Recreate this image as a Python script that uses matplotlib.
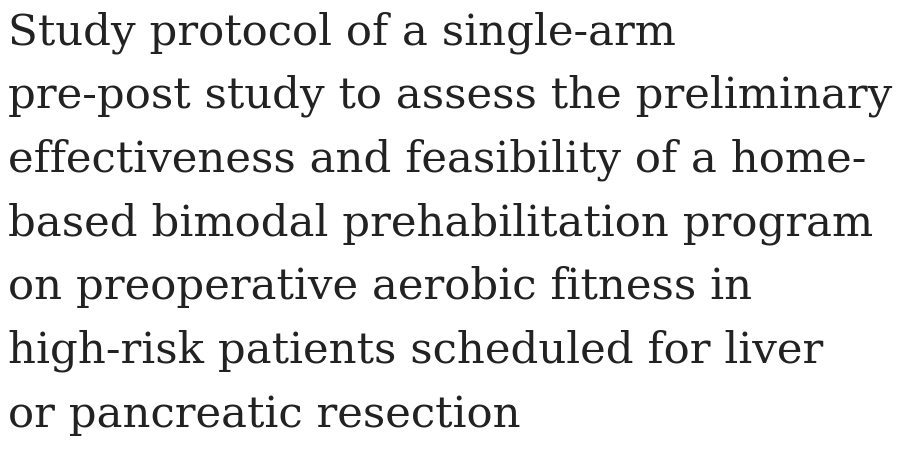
import matplotlib.pyplot as plt

lines = [
    "Study protocol of a single-arm",
    "pre-post study to assess the preliminary",
    "effectiveness and feasibility of a home-",
    "based bimodal prehabilitation program",
    "on preoperative aerobic fitness in",
    "high-risk patients scheduled for liver",
    "or pancreatic resection",
]

W, H = 902, 469
fig = plt.figure(figsize=(W / 100, H / 100), dpi=100)
fig.patch.set_facecolor("white")

x0 = 8
first_baseline = 44
step = 63.8
for i, line in enumerate(lines):
    y = first_baseline + i * step
    fig.text(x0 / W, 1 - y / H, line, family="DejaVu Serif", fontsize=31.3,
             color="#222222", ha="left", va="baseline")

fig.savefig("out.png", dpi=100, facecolor="white")
